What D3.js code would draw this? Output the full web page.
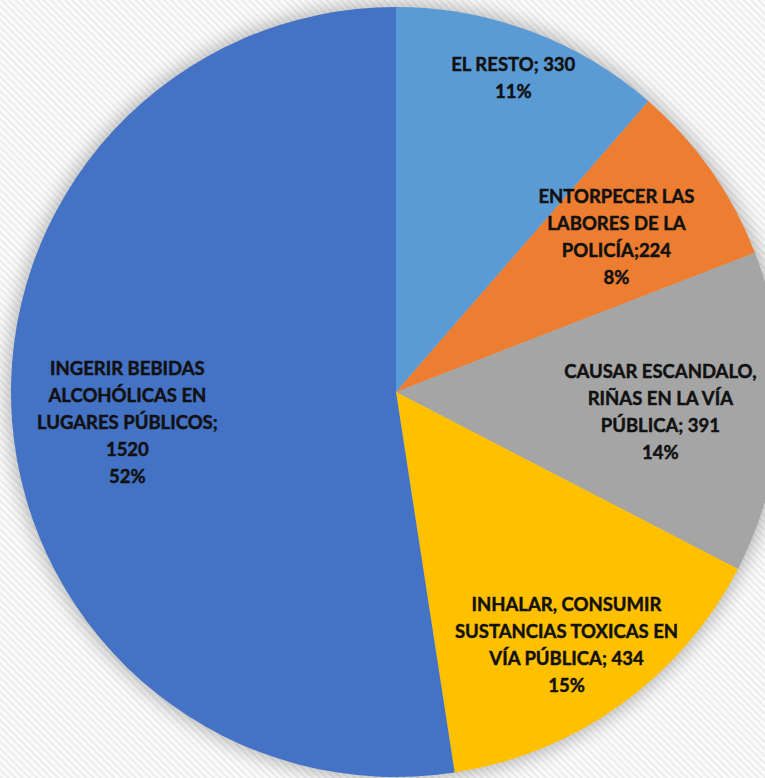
<!DOCTYPE html>
<html>
<head>
<meta charset="utf-8">
<script src="https://cdn.jsdelivr.net/npm/d3@7"></script>
<style>
  body { margin: 0; background: #fff; }
  svg { display: block; }
  .lbl { font-family: Lato, "Open Sans", sans-serif; font-weight: bold; font-size: 18.5px; fill: #111; stroke: #111; stroke-width: 0.45px; }
</style>
</head>
<body>
<script>
// Data
var categories = [
  "EL RESTO",
  "ENTORPECER LAS LABORES DE LA POLICÍA",
  "CAUSAR ESCANDALO, RIÑAS EN LA VÍA PÚBLICA",
  "INHALAR, CONSUMIR SUSTANCIAS TOXICAS EN VÍA PÚBLICA",
  "INGERIR BEBIDAS ALCOHÓLICAS EN LUGARES PÚBLICOS"
];
var values = [330, 224, 391, 434, 1520];
var percents = ["11%", "8%", "14%", "15%", "52%"];
// label text, broken in lines as in the picture
var labelLines = [
  ["EL RESTO; 330", "11%"],
  ["ENTORPECER LAS", "LABORES DE LA", "POLICÍA;224", "8%"],
  ["CAUSAR ESCANDALO,", "RIÑAS EN LA VÍA", "PÚBLICA; 391", "14%"],
  ["INHALAR, CONSUMIR", "SUSTANCIAS TOXICAS EN", "VÍA PÚBLICA; 434", "15%"],
  ["INGERIR BEBIDAS", "ALCOHÓLICAS EN", "LUGARES PÚBLICOS;", "1520", "52%"]
];
var colors = ["#5B9BD5", "#ED7D31", "#A5A5A5", "#FFC000", "#4472C4"];

// layout
var width = 765, height = 778;
var cx = 396, cy = 392, radius = 385;
// how far out each label sits, as a share of the radius, plus a small hand nudge
var labelRadius = [0.87, 0.70, 0.685, 0.79, 0.705];
var labelNudge = [[0, 0], [0, 0], [1, 6], [-7, 7], [2, 10]];
var lineHeight = 27;

var svg = d3.select("body").append("svg")
  .attr("width", width)
  .attr("height", height);

var defs = svg.append("defs");

// faint diagonal stripes behind the pie
var pat = defs.append("pattern")
  .attr("id", "stripes")
  .attr("patternUnits", "userSpaceOnUse")
  .attr("width", 5)
  .attr("height", 5)
  .attr("patternTransform", "rotate(-45)");
pat.append("rect").attr("width", 5).attr("height", 5).attr("fill", "#fbfbfb");
pat.append("rect").attr("width", 2).attr("height", 5).attr("fill", "#ececec");

var blur = defs.append("filter")
  .attr("id", "glow")
  .attr("x", "-20%").attr("y", "-20%")
  .attr("width", "140%").attr("height", "140%");
blur.append("feGaussianBlur").attr("stdDeviation", 9);

svg.append("rect")
  .attr("width", width)
  .attr("height", height)
  .attr("fill", "url(#stripes)");

var g = svg.append("g")
  .attr("transform", "translate(" + cx + "," + cy + ")");

// soft shadow round the pie
g.append("circle")
  .attr("r", radius + 4)
  .attr("fill", "#000")
  .attr("opacity", 0.25)
  .attr("filter", "url(#glow)");

var pie = d3.pie().sort(null).value(function(d) { return d; });
var arcs = pie(values);

var arc = d3.arc().innerRadius(0).outerRadius(radius);

g.selectAll("path.slice")
  .data(arcs)
  .enter()
  .append("path")
  .attr("class", "slice")
  .attr("d", arc)
  .attr("fill", function(d, i) { return colors[i]; });

// labels
arcs.forEach(function(d, i) {
  var r = radius * labelRadius[i];
  var pos = d3.arc().innerRadius(r).outerRadius(r).centroid(d);
  var x = pos[0] + labelNudge[i][0];
  var y = pos[1] + labelNudge[i][1];
  var lines = labelLines[i];
  var t = g.append("text")
    .attr("class", "lbl")
    .attr("text-anchor", "middle")
    .attr("x", x)
    .attr("y", y - (lines.length - 1) * lineHeight / 2 + 6);
  lines.forEach(function(line, k) {
    t.append("tspan")
      .attr("x", x)
      .attr("dy", k === 0 ? 0 : lineHeight)
      .text(line);
  });
});
</script>
</body>
</html>
